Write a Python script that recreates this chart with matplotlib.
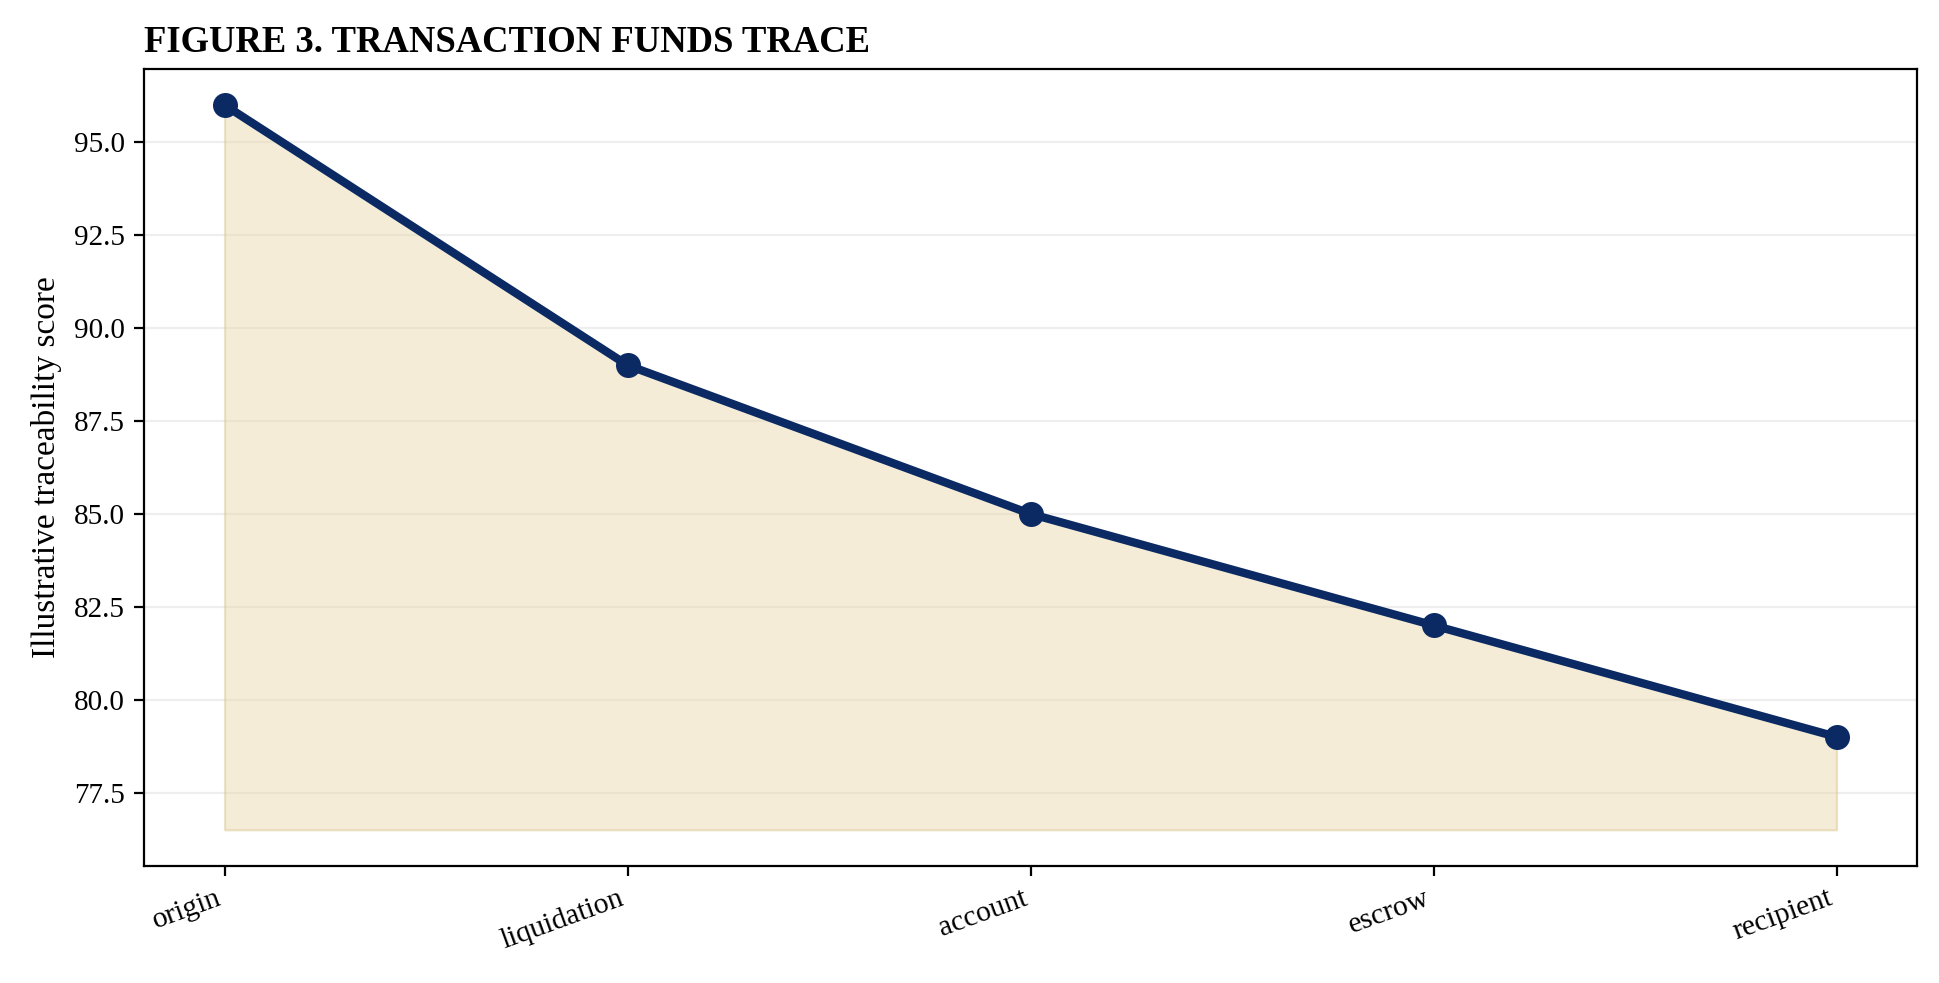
import matplotlib
matplotlib.use("Agg")
import matplotlib.pyplot as plt

plt.rcParams['font.family'] = ['Liberation Serif', 'DejaVu Serif']

stages = ["origin", "liquidation", "account", "escrow", "recipient"]
scores = [96, 89, 85, 82, 79]

fig = plt.figure(figsize=(9.7, 4.915), dpi=200)
ax = fig.add_axes([0.0742, 0.119, 0.914, 0.811])

x = list(range(len(stages)))
base = min(scores) - 2.5
ax.fill_between(x, scores, base, color="#e8d6a8", alpha=0.45, edgecolor="#d9c28a", linewidth=0.8)
ax.plot(x, scores, color="#0b2a64", linewidth=3.0, marker="o", markersize=8, zorder=3)

ax.set_xticks(x)
ax.set_xticklabels(stages, rotation=20, ha="right", fontsize=10.7)
ax.tick_params(axis="y", labelsize=10.5)
ax.set_ylabel("Illustrative traceability score", fontsize=12)
ax.set_title("FIGURE 3. TRANSACTION FUNDS TRACE", loc="left", fontweight="bold", fontsize=13.2)
ax.grid(axis="y", color="#eeeeee", linewidth=0.8)
ax.set_axisbelow(True)

fig.savefig("out.png", dpi=200)
